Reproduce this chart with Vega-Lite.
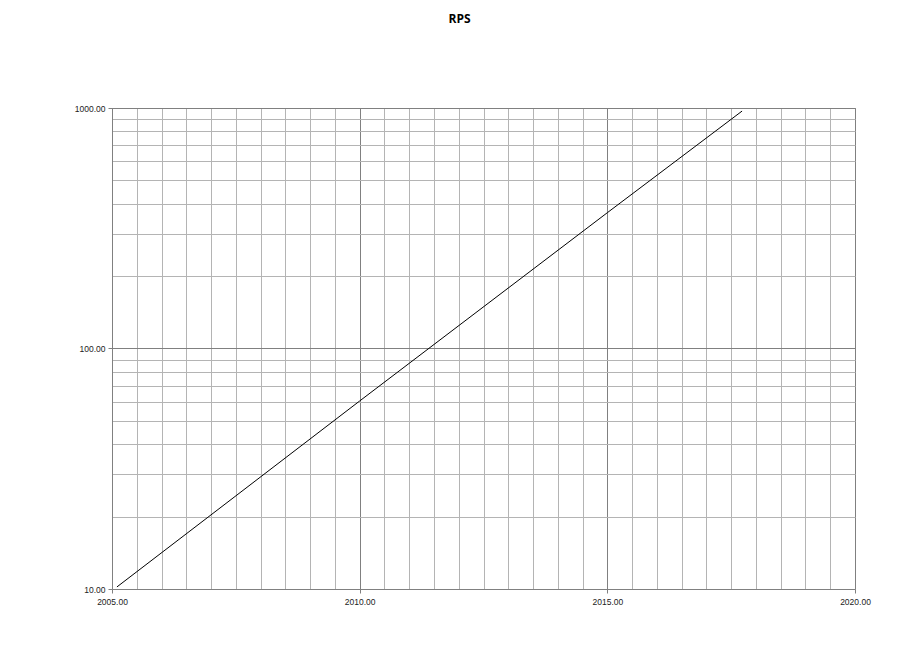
{
  "$schema": "https://vega.github.io/schema/vega-lite/v6.json",
  "width": 743,
  "height": 481,
  "autosize": {"type": "none"},
  "padding": {"left": 112, "top": 108, "right": 65, "bottom": 82},
  "background": "white",
  "title": {
    "text": "RPS",
    "font": "Open Sans",
    "fontSize": 12,
    "fontWeight": "bold",
    "color": "black",
    "anchor": "middle",
    "frame": "group",
    "offset": 78,
    "dx": -24
  },
  "data": {
    "values": [
      {"year": 2005.1, "rps": 10.2},
      {"year": 2010.0, "rps": 60.5},
      {"year": 2015.0, "rps": 367},
      {"year": 2017.72, "rps": 971}
    ]
  },
  "mark": {"type": "line", "color": "black", "strokeWidth": 1},
  "encoding": {
    "x": {
      "field": "year",
      "type": "quantitative",
      "title": null,
      "scale": {"domain": [2005, 2020], "nice": false, "zero": false},
      "axis": {
        "values": [2005, 2005.5, 2006, 2006.5, 2007, 2007.5, 2008, 2008.5, 2009, 2009.5, 2010, 2010.5, 2011, 2011.5, 2012, 2012.5, 2013, 2013.5, 2014, 2014.5, 2015, 2015.5, 2016, 2016.5, 2017, 2017.5, 2018, 2018.5, 2019, 2019.5, 2020],
        "labelExpr": "datum.value % 5 == 0 ? format(datum.value, '.2f') : ''",
        "gridColor": {"condition": {"test": "datum.value % 5 == 0", "value": "#808080"}, "value": "#b4b4b4"},
        "tickOpacity": {"condition": {"test": "datum.value % 5 == 0", "value": 1}, "value": 0}
      }
    },
    "y": {
      "field": "rps",
      "type": "quantitative",
      "title": null,
      "scale": {"type": "log", "domain": [10, 1000], "nice": false},
      "axis": {
        "values": [10, 20, 30, 40, 50, 60, 70, 80, 90, 100, 200, 300, 400, 500, 600, 700, 800, 900, 1000],
        "labelExpr": "indexof([10, 100, 1000], datum.value) >= 0 ? format(datum.value, '.2f') : ''",
        "gridColor": {"condition": {"test": "datum.value == 100 || datum.value == 1000", "value": "#808080"}, "value": "#b4b4b4"},
        "tickOpacity": {"condition": {"test": "indexof([10, 100, 1000], datum.value) >= 0", "value": 1}, "value": 0}
      }
    }
  },
  "config": {
    "view": {"stroke": "#808080", "strokeWidth": 1},
    "axis": {
      "grid": true,
      "gridWidth": 1,
      "gridOpacity": 1,
      "domainColor": "#808080",
      "tickColor": "#808080",
      "tickSize": 4,
      "labelFont": "Liberation Sans",
      "labelFontSize": 8.5,
      "labelColor": "#222222",
      "labelPadding": 3,
      "labelFlush": false,
      "labelOverlap": false
    },
    "axisX": {"labelPadding": 4}
  }
}
